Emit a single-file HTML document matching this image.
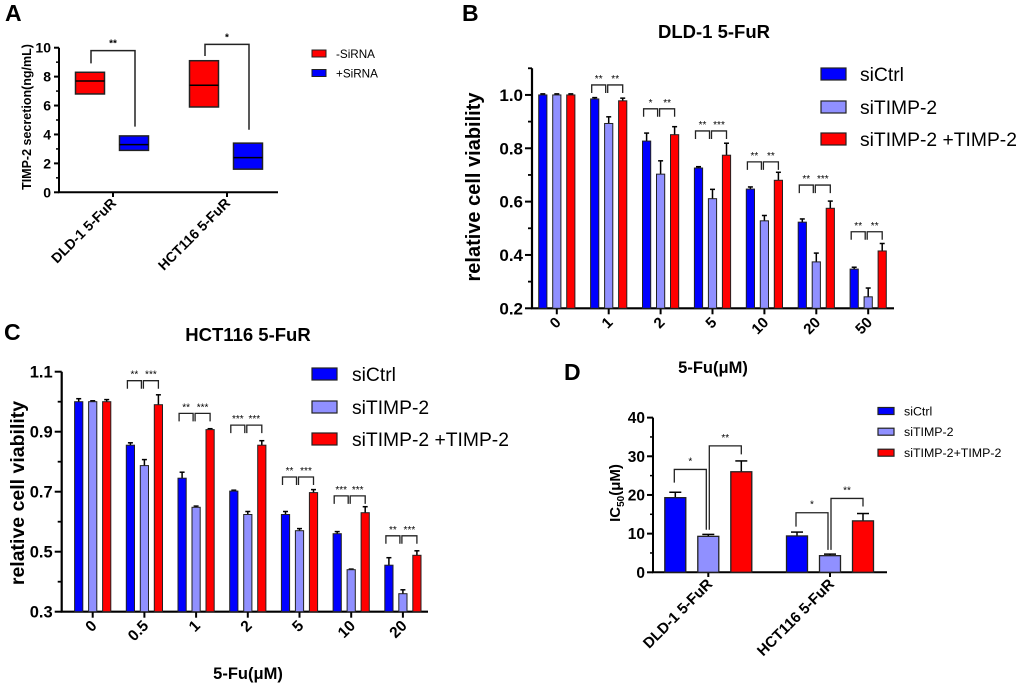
<!DOCTYPE html>
<html><head><meta charset="utf-8"><style>
body{margin:0;background:#fff}
svg{display:block;font-family:"Liberation Sans",Arial,sans-serif}
.b{font-weight:bold}
</style></head><body>
<svg id="fig" width="1020" height="685" viewBox="0 0 1020 685" xmlns="http://www.w3.org/2000/svg">
<g id="pA"></g>
<g id="pB"></g>
<g id="pC"></g>
<g id="pD"></g>
</svg>
<script>
// ---- Panel A data ----
const aCats = ["DLD-1 5-FuR","HCT116 5-FuR"];
const aSeries = ["-SiRNA","+SiRNA"];
const aLow = [[6.8,2.9],[5.9,1.6]];
const aHigh = [[8.3,3.9],[9.1,3.4]];
const aMed = [[7.7,3.3],[7.4,2.4]];
const aTicks = [0,2,4,6,8,10];
const aBrTop = [9.8,10.23];
const aBrLeft = [8.92,9.43];
const aBrRight = [4.54,4.33];
const aStars = ["**","*"];

// ---- Panel B data ----
const bCats = ["0","1","2","5","10","20","50"];
const bSeries = ["siCtrl","siTIMP-2","siTIMP-2 +TIMP-2"];
const bCtrl = [1.0,0.985,0.827,0.726,0.647,0.523,0.347];
const bSi = [1.0,0.893,0.703,0.611,0.528,0.374,0.243];
const bRes = [1.0,0.978,0.851,0.774,0.68,0.575,0.415];
const bCtrlErr = [0.004,0.005,0.03,0.005,0.008,0.012,0.007];
const bSiErr = [0.004,0.025,0.05,0.035,0.02,0.033,0.033];
const bResErr = [0.004,0.01,0.03,0.045,0.03,0.027,0.028];
const bBrTop = [null,1.0375,0.948,0.865,0.749,0.662,0.487];
const bStarsL = ["","**","*","**","**","**","**"];
const bStarsR = ["","**","**","***","**","***","**"];
const bTicks = ["0.2","0.4","0.6","0.8","1.0"];

// ---- Panel C data ----
const cCats = ["0","0.5","1","2","5","10","20"];
const cCtrl = [1.0,0.855,0.745,0.702,0.624,0.56,0.455];
const cSi = [1.0,0.787,0.648,0.624,0.57,0.44,0.36];
const cRes = [1.0,0.99,0.907,0.855,0.697,0.63,0.488];
const cCtrlErr = [0.01,0.008,0.02,0.003,0.01,0.007,0.025];
const cSiErr = [0.003,0.02,0.004,0.01,0.007,0.002,0.013];
const cResErr = [0.007,0.033,0.003,0.015,0.01,0.02,0.015];
const cBrTop = [null,1.07,0.961,0.922,0.749,0.686,0.553];
const cStarsL = ["","**","**","***","**","***","**"];
const cStarsR = ["","***","***","***","***","***","***"];
const cTicks = ["0.3","0.5","0.7","0.9","1.1"];

// ---- Panel D data ----
const dCats = ["DLD-1 5-FuR","HCT116 5-FuR"];
const dSeries = ["siCtrl","siTIMP-2","siTIMP-2+TIMP-2"];
const dCtrl = [19.3,9.4];
const dSi = [9.3,4.3];
const dRes = [26,13.3];
const dCtrlErr = [1.4,1.0];
const dSiErr = [0.5,0.4];
const dResErr = [2.8,1.9];
const dBr1Top = [26.6,15.4], dBr1L=[23.2,11.8], dBr1R=[11,5.8];
const dBr2Top = [32.7,19.1], dBr2L=[11,5.8], dBr2R=[30.5,17];
const dStars1 = ["*","*"], dStars2 = ["**","**"];
const dTicks = [0,10,20,30,40];

const NS="http://www.w3.org/2000/svg";
const COL=["#0000ff","#9090ff","#ff0000"];
function mk(parent,tag,attrs,text){const e=document.createElementNS(NS,tag);for(const k in attrs)e.setAttribute(k,attrs[k]);if(text!==undefined)e.textContent=text;parent.appendChild(e);return e;}
function line(p,x1,y1,x2,y2,w){return mk(p,"line",{x1,y1,x2,y2,stroke:"#000","stroke-width":w||1.5});}
function txt(p,x,y,s,size,opts){opts=opts||{};const e=mk(p,"text",{x,y,"font-size":size,"text-anchor":opts.anchor||"middle","font-weight":opts.bold===false?"normal":"bold"},s);if(opts.rot!==undefined)e.setAttribute("transform",`rotate(${opts.rot} ${x} ${y})`);return e;}

// ===== Panel A =====
(function(){
const g=document.getElementById("pA");
const y=v=>192.3-v*14.46, gx=[113,227], off=[-23,21], bw=29;
let t=txt(g,5,21,"A",23,{anchor:"start"});

let ax=mk(g,"path",{d:`M59 ${y(10)} V192.3 H278`,fill:"none",stroke:"#000","stroke-width":2});

aTicks.forEach(v=>{line(g,54,y(v),59,y(v),2);let l=txt(g,51,y(v)+5,String(v),14,{anchor:"end"});});
[1,3,5,7,9].forEach(v=>line(g,56,y(v),59,y(v),1.5));
let yl=txt(g,31,117,"TIMP-2 secretion(ng/mL)",12.5,{rot:-90});

aCats.forEach((c,i)=>{
 line(g,gx[i],192.3,gx[i],197,2);
 let l=txt(g,gx[i]+4,204,c,14,{anchor:"end",rot:-45});
 
 for(let s=0;s<2;s++){
  const cx=gx[i]+off[s];
  let r=mk(g,"rect",{x:cx-bw/2,y:y(aHigh[i][s]),width:bw,height:y(aLow[i][s])-y(aHigh[i][s]),fill:s?"#0000ff":"#ff0000",stroke:"#222","stroke-width":1.5});
  
  line(g,cx-bw/2,y(aMed[i][s]),cx+bw/2,y(aMed[i][s]),1.5);
 }
 const lx=gx[i]+off[0]+1, rx=gx[i]+off[1]+1;
 let br=mk(g,"path",{d:`M${lx} ${y(aBrLeft[i])} V${y(aBrTop[i])} H${rx} V${y(aBrRight[i])}`,fill:"none",stroke:"#222","stroke-width":1.5});
 
 let st=txt(g,(lx+rx)/2,y(aBrTop[i])-4,aStars[i],10);
 
});
aSeries.forEach((s,i)=>{
 let r=mk(g,"rect",{x:312,y:50+i*19.5,width:14,height:7,fill:i?"#0000ff":"#ff0000",stroke:"#222","stroke-width":1});
 
 let l=txt(g,336,58+i*19.5,s,11.7,{anchor:"start",bold:false});
 
});
})();

// ===== Grouped bar panel (B, C) =====
function grouped(g,cfg){
 const {y,x0,x1,yTop,yBot,gx0,step,cats,vals,errs,brTop,sL,sR,ticks,tickVals,minor,prefix}=cfg;
 const bw=8.2, off=[-14,0,14];
 let ax=mk(g,"path",{d:`M${x0} ${yTop} V${yBot} H${x1}`,fill:"none",stroke:"#000","stroke-width":2.2});
 
 ticks.forEach((s,i)=>{const v=tickVals[i];line(g,x0-7,y(v),x0,y(v),2);let l=txt(g,x0-9,y(v)+6,s,cfg.tickSize,{anchor:"end"});});
 minor.forEach(v=>line(g,x0-4,y(v),x0,y(v),1.8));
 cats.forEach((c,i)=>{
  const cx=gx0+i*step;
  line(g,cx,yBot,cx,yBot+6,2);
  let l=txt(g,cx+5,yBot+15,c,cfg.xtSize,{anchor:"end",rot:-45});
  
  for(let s=0;s<3;s++){
   const bx=cx+off[s], v=vals[s][i], e=errs[s][i];
   line(g,bx,y(v),bx,y(v+e),1.5);line(g,bx-2.5,y(v+e),bx+2.5,y(v+e),1.5);
   let r=mk(g,"rect",{x:bx-bw/2,y:y(v),width:bw,height:yBot-y(v),fill:COL[s],stroke:"#222","stroke-width":1});
   
  }
  if(brTop[i]!==null){
   const top=y(brTop[i]), L=[cx-14-3,cx-3], R=[cx-1,cx+14];
   [[L,sL[i]],[R,sR[i]]].forEach(([xs,st])=>{
    let p=mk(g,"path",{d:`M${xs[0]} ${top+8} V${top} H${xs[1]} V${top+8}`,fill:"none",stroke:"#222","stroke-width":1.3});
    
    let t=txt(g,(xs[0]+xs[1])/2,top-3,st,10,{bold:false});
    
   });
  }
 });
}
function legend3(g,x,ys,sw,sh,tx,size,labels,prefix){
 labels.forEach((s,i)=>{
  let r=mk(g,"rect",{x,y:ys[i]-sh/2,width:sw,height:sh,fill:COL[i],stroke:"#222","stroke-width":1.2});
  
  let l=txt(g,tx,ys[i]+size*0.36,s,size,{anchor:"start",bold:false});
  
 });
}

// ===== Panel B =====
(function(){
const g=document.getElementById("pB");
const y=v=>308.3-(v-0.2)*266.7;
let t=txt(g,462,21,"B",23,{anchor:"start"});
t=txt(g,714,38,"DLD-1 5-FuR",18.5);
grouped(g,{y,x0:532,x1:894,yTop:y(1.1),yBot:308.3,gx0:556.8,step:51.9,cats:bCats,vals:[bCtrl,bSi,bRes],errs:[bCtrlErr,bSiErr,bResErr],brTop:bBrTop,sL:bStarsL,sR:bStarsR,ticks:bTicks,tickVals:bTicks.map(Number),minor:[0.3,0.5,0.7,0.9,1.1],tickSize:17,xtSize:15,prefix:"b"});
t=txt(g,480,187,"relative cell viability",20,{rot:-90});
t=txt(g,713,373,"5-Fu(μM)",16.5);
legend3(g,821,[74,107,139],25,12,860,19.3,bSeries,"b");
})();

// ===== Panel C =====
(function(){
const g=document.getElementById("pC");
const y=v=>611.7-(v-0.3)*300;
let t=txt(g,4,340,"C",23,{anchor:"start"});
t=txt(g,248,341,"HCT116 5-FuR",18.5);
grouped(g,{y,x0:61.7,x1:428,yTop:y(1.1),yBot:611.7,gx0:92.7,step:51.7,cats:cCats,vals:[cCtrl,cSi,cRes],errs:[cCtrlErr,cSiErr,cResErr],brTop:cBrTop,sL:cStarsL,sR:cStarsR,ticks:cTicks,tickVals:cTicks.map(Number),minor:[0.4,0.6,0.8,1.0],tickSize:16.5,xtSize:15.5,prefix:"c"});
t=txt(g,24,493,"relative cell viability",19.5,{rot:-90});
t=txt(g,248,679,"5-Fu(μM)",16.5);
legend3(g,312,[374,407,439],25,12,352,19.3,bSeries,"c");
})();

// ===== Panel D =====
(function(){
const g=document.getElementById("pD");
const y=v=>572.3-v*3.867, gx=[708.3,830], off=[-33,0,33], bw=21;
let t=txt(g,564,380,"D",23,{anchor:"start"});
let ax=mk(g,"path",{d:`M653 ${y(40)} V572.3 H887`,fill:"none",stroke:"#000","stroke-width":2});

dTicks.forEach(v=>{line(g,647,y(v),653,y(v),2);let l=txt(g,645,y(v)+5.5,String(v),15.5,{anchor:"end"});});
[5,15,25,35].forEach(v=>line(g,650,y(v),653,y(v),1.5));
let yl=mk(g,"text",{x:620,y:493,"font-size":15,"font-weight":"bold","text-anchor":"middle",transform:"rotate(-90 620 493)"});

yl.innerHTML='IC<tspan font-size="10" dy="4">50</tspan><tspan dy="-4">(μM)</tspan>';
const vals=[dCtrl,dSi,dRes], errs=[dCtrlErr,dSiErr,dResErr];
dCats.forEach((c,i)=>{
 line(g,gx[i],572.3,gx[i],577,2);
 let l=txt(g,gx[i]+5,585,c,15,{anchor:"end",rot:-45});
 
 for(let s=0;s<3;s++){
  const bx=gx[i]+off[s], v=vals[s][i], e=errs[s][i];
  line(g,bx,y(v),bx,y(v+e),1.5);line(g,bx-6,y(v+e),bx+6,y(v+e),1.5);
  let r=mk(g,"rect",{x:bx-bw/2,y:y(v),width:bw,height:572.3-y(v),fill:COL[s],stroke:"#222","stroke-width":1.3});
  
 }
 const b=gx[i]+off[0]-1, m=gx[i], r2=gx[i]+off[2];
 [[b,m-2,dBr1Top[i],dBr1L[i],dBr1R[i],dStars1[i]],[m+1,r2,dBr2Top[i],dBr2L[i],dBr2R[i],dStars2[i]]].forEach(([a,bb,tp,lb,rb,st])=>{
  let p=mk(g,"path",{d:`M${a} ${y(lb)} V${y(tp)} H${bb} V${y(rb)}`,fill:"none",stroke:"#222","stroke-width":1.3});
  
  let s=txt(g,(a+bb)/2,y(tp)-5,st,10,{bold:false});
  
 });
});
legend3(g,878,[411,431.7,452.7],16,7,904,12.4,dSeries,"d");
})();
</script>
</body></html>
